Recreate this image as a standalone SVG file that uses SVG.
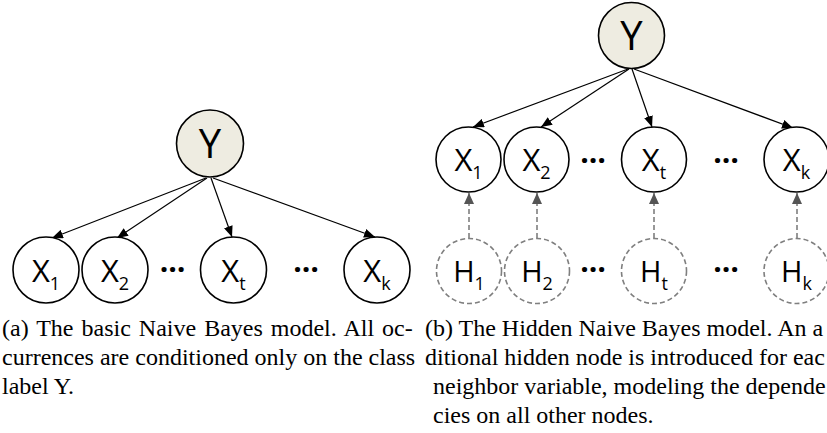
<svg xmlns="http://www.w3.org/2000/svg" width="827" height="433" viewBox="0 0 827 433">
<style>
.n{fill:#fff;stroke:#000;stroke-width:1.6}
.y{fill:#EEECE1;stroke:#000;stroke-width:1.6}
.h{fill:#fff;stroke:#7f7f7f;stroke-width:1.6;stroke-dasharray:5 3}
.t{font-family:"Open Sans","Noto Sans",sans-serif;fill:#000;text-anchor:middle}
.tx{font-size:31px}
.ty{font-size:40px}
.th{font-size:29px}
.sub{font-size:18px}
.dots{font-family:"Open Sans","Noto Sans",sans-serif;font-size:30px;font-weight:bold;text-anchor:middle;fill:#000}
.e{stroke:#000;stroke-width:1.2;fill:none;marker-end:url(#ab)}
.d{stroke:#7f7f7f;stroke-width:1.6;fill:none;stroke-dasharray:5 3;marker-end:url(#ag)}
.cap{font-family:"Liberation Serif","Times New Roman",serif;font-size:24px;fill:#000}
</style>
<defs>
<marker id="ab" markerUnits="userSpaceOnUse" markerWidth="11" markerHeight="9" refX="11" refY="4.5" orient="auto"><path d="M0,0 L11,4.5 L0,9 z" fill="#000"/></marker>
<marker id="ag" markerUnits="userSpaceOnUse" markerWidth="11" markerHeight="10" refX="11" refY="5" orient="auto"><path d="M0,0 L11,5 L0,10 z" fill="#555"/></marker>
</defs>

<g id="connectors">
<line class="e" x1="206" y1="178" x2="52" y2="238"/>
<line class="e" x1="207" y1="178" x2="117" y2="238"/>
<line class="e" x1="211" y1="178" x2="232" y2="237"/>
<line class="e" x1="213" y1="178" x2="375" y2="237"/>
<line class="e" x1="628" y1="69" x2="473" y2="127"/>
<line class="e" x1="629" y1="69" x2="541" y2="127"/>
<line class="e" x1="632" y1="69" x2="652" y2="127"/>
<line class="e" x1="634" y1="69" x2="793" y2="128"/>
<line class="d" x1="469" y1="238" x2="469" y2="193"/>
<line class="d" x1="537" y1="238" x2="537" y2="193"/>
<line class="d" x1="654" y1="238" x2="654" y2="193"/>
<line class="d" x1="797" y1="238" x2="797" y2="193"/>
</g>

<g id="a-Y"><circle class="y" cx="210" cy="143.5" r="33.5"/><text class="t ty" x="210" y="158">Y</text></g>
<g id="a-X1"><circle class="n" cx="46" cy="270" r="33"/><text class="t tx" x="46" y="281.5">X<tspan class="sub" dy="8">1</tspan></text></g>
<g id="a-X2"><circle class="n" cx="115" cy="270" r="33"/><text class="t tx" x="115" y="281.5">X<tspan class="sub" dy="8">2</tspan></text></g>
<g id="a-Xt"><circle class="n" cx="233.5" cy="270" r="33"/><text class="t tx" x="233.5" y="281.5">X<tspan class="sub" dy="8">t</tspan></text></g>
<g id="a-Xk"><circle class="n" cx="377" cy="270" r="33"/><text class="t tx" x="377" y="281.5">X<tspan class="sub" dy="8">k</tspan></text></g>
<g id="a-dots"><text class="dots" x="172.5" y="272">…</text><text class="dots" x="306" y="272">…</text></g>

<g id="b-Y"><circle class="y" cx="631.5" cy="35.5" r="33"/><text class="t ty" x="631.5" y="50">Y</text></g>
<g id="b-X1"><circle class="n" cx="468.5" cy="159.5" r="32.5"/><text class="t tx" x="468.5" y="171">X<tspan class="sub" dy="8">1</tspan></text></g>
<g id="b-X2"><circle class="n" cx="536.5" cy="159.5" r="32.5"/><text class="t tx" x="536.5" y="171">X<tspan class="sub" dy="8">2</tspan></text></g>
<g id="b-Xt"><circle class="n" cx="654" cy="159.5" r="32.5"/><text class="t tx" x="654" y="171">X<tspan class="sub" dy="8">t</tspan></text></g>
<g id="b-Xk"><circle class="n" cx="796.5" cy="159.5" r="32.5"/><text class="t tx" x="796.5" y="171">X<tspan class="sub" dy="8">k</tspan></text></g>
<g id="b-H1"><circle class="h" cx="469" cy="271" r="32.5"/><text class="t th" x="469" y="282">H<tspan class="sub" dy="8">1</tspan></text></g>
<g id="b-H2"><circle class="h" cx="537" cy="271" r="32.5"/><text class="t th" x="537" y="282">H<tspan class="sub" dy="8">2</tspan></text></g>
<g id="b-Ht"><circle class="h" cx="654" cy="271" r="32.5"/><text class="t th" x="654" y="282">H<tspan class="sub" dy="8">t</tspan></text></g>
<g id="b-Hk"><circle class="h" cx="796.5" cy="271" r="32.5"/><text class="t th" x="796.5" y="282">H<tspan class="sub" dy="8">k</tspan></text></g>
<g id="b-dots"><text class="dots" x="593" y="163">…</text><text class="dots" x="726" y="163">…</text><text class="dots" x="593" y="272">…</text><text class="dots" x="726" y="272">…</text></g>

<g id="captions">
<text class="cap" x="2" y="336" word-spacing="2">(a) The basic Naive Bayes model. All oc-</text>
<text class="cap" x="2" y="365">currences are conditioned only on the class</text>
<text class="cap" x="2" y="394">label Y.</text>
<text class="cap" x="425" y="336">(b) The Hidden Naive Bayes model. An a</text>
<text class="cap" x="425" y="365">ditional hidden node is introduced for eac</text>
<text class="cap" x="433" y="394">neighbor variable, modeling the depende</text>
<text class="cap" x="433" y="423">cies on all other nodes.</text>
</g>
</svg>
